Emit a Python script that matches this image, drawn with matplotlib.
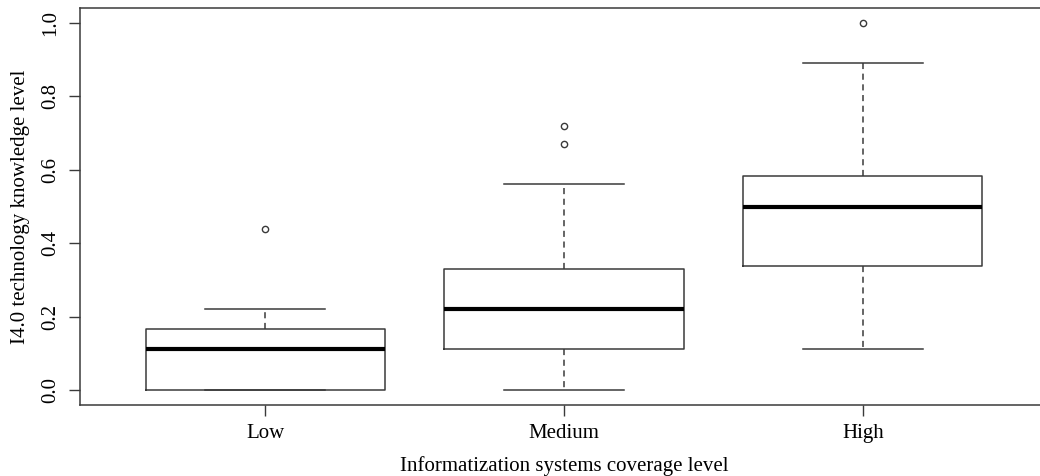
import matplotlib
matplotlib.use("Agg")
import matplotlib.pyplot as plt

categories = ["Low", "Medium", "High"]
whislo = [0.0, 0.0, 0.111]
q1 = [0.0, 0.111, 0.337]
med = [0.111, 0.22, 0.5]
q3 = [0.168, 0.329, 0.584]
whishi = [0.22, 0.56, 0.891]
fliers = [[0.44], [0.671, 0.72], [1.0]]
yticks = [0.0, 0.2, 0.4, 0.6, 0.8, 1.0]

plt.rcParams['font.family'] = ['Liberation Serif', 'DejaVu Serif']

fig = plt.figure(figsize=(10.4, 4.76), dpi=100)
ax = fig.add_axes([80/1040, 1 - 405/476, (1048 - 80)/1040, (405 - 8)/476])

stats = []
for i, c in enumerate(categories):
    stats.append(dict(label=c, whislo=whislo[i], q1=q1[i], med=med[i],
                      q3=q3[i], whishi=whishi[i], fliers=fliers[i]))

lc = '#3a3a3a'
ax.bxp(stats, positions=[1, 2, 3], widths=0.8, showfliers=True,
       boxprops=dict(color=lc, linewidth=1.1),
       medianprops=dict(color='black', linewidth=3),
       whiskerprops=dict(color=lc, linewidth=1.1, linestyle=(0, (4, 3))),
       capprops=dict(color=lc, linewidth=1.1),
       capwidths=0.4,
       flierprops=dict(marker='o', markerfacecolor='none', markeredgecolor=lc,
                       markersize=4.5, markeredgewidth=1.0))

ax.set_xlim(0.38, 3.62)
ax.set_ylim(-0.04, 1.04)
ax.set_yticks(yticks)
ax.set_yticklabels([f"{v:.1f}" for v in yticks], rotation=90, va='center', fontsize=15)
ax.set_xticks([1, 2, 3])
ax.set_xticklabels(categories, fontsize=15)
ax.tick_params(axis='both', direction='out', length=8, width=1, color=lc, pad=6)
for s in ax.spines.values():
    s.set_color(lc)
    s.set_linewidth(1.1)

ax.set_ylabel("I4.0 technology knowledge level", fontsize=15, labelpad=8)
ax.set_xlabel("Informatization systems coverage level", fontsize=15, labelpad=9)

fig.savefig("out.png", dpi=100)
